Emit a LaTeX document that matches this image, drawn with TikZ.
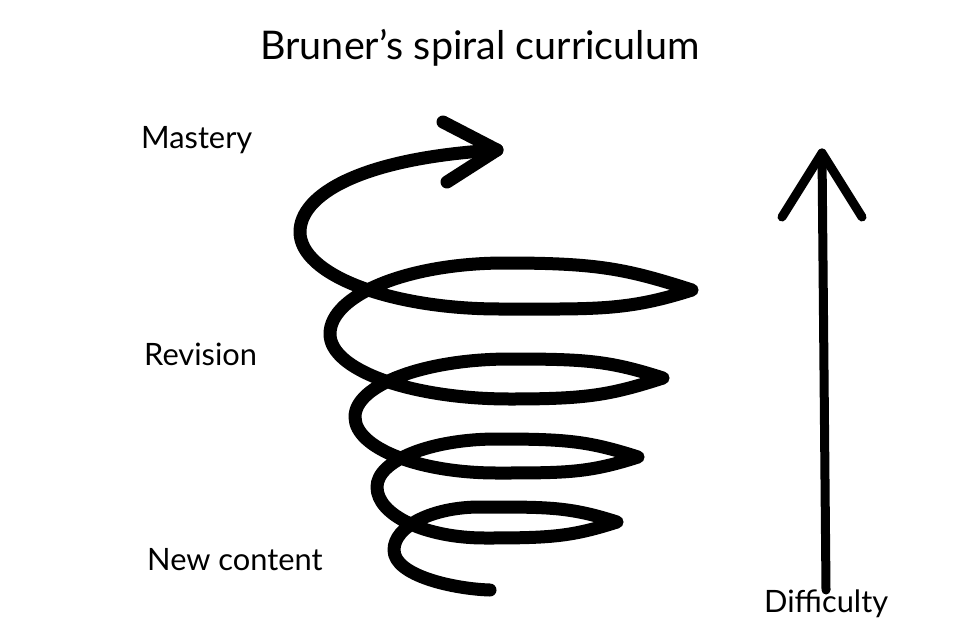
\documentclass[tikz,border=0pt]{standalone}
\usepackage{fontspec}
\setmainfont{Lato}
\begin{document}
\begin{tikzpicture}[x=1pt,y=-1pt,
  spiralline/.style={line width=13pt,line cap=round,line join=round,black},
  diffline/.style={line width=9pt,line cap=round,line join=round,black},
  lbl/.style={anchor=base west,inner sep=0pt,font=\fontsize{30.8}{36}\selectfont},
  titlelbl/.style={anchor=base,inner sep=0pt,font=\fontsize{39.5}{46}\selectfont}]
\useasboundingbox[fill=white] (0,0) rectangle (960,640);
% labels
\node[titlelbl] (title) at (480,59) {Bruner’s spiral curriculum};
\node[lbl] (mastery) at (141,148) {Mastery};
\node[lbl] (revision) at (144,365) {Revision};
\node[lbl] (newc) at (147,570) {New content};
\node[lbl] (diff) at (764,612) {Difficulty};
% spiral
\coordinate (s0) at (490,590);
\coordinate (tipA) at (497,150);
\draw[spiralline] (s0)
  .. controls (455,589) and (394,576) .. (394,550)
  % loop 1
  .. controls (394,526.3) and (432.5,507) .. (480,507)
  .. controls (548.5,507) and (569,506.6) .. (617,522)
  .. controls (571,536.7) and (551,538) .. (485,538)
  .. controls (425.4,538) and (377,515.2) .. (377,487)
  % loop 2
  .. controls (377,460.5) and (430.8,439) .. (497,439)
  .. controls (567.5,439) and (588.6,441.2) .. (638,457)
  .. controls (588.6,472.8) and (567.5,473) .. (497,473)
  .. controls (418.6,473) and (355,447.9) .. (355,417)
  % loop 3
  .. controls (355,385) and (424.4,359) .. (510,359)
  .. controls (586.5,359) and (609.4,360.8) .. (663,378)
  .. controls (609.4,395.2) and (586.5,399) .. (510,399)
  .. controls (410.6,399) and (330,369.9) .. (330,334)
  % loop 4
  .. controls (330,294.8) and (408.4,263) .. (505,263)
  .. controls (598.5,263) and (626.5,269) .. (692,290)
  .. controls (626.5,311) and (596,309) .. (500,309)
  .. controls (389.6,309) and (300,274.5) .. (300,232)
  % top arc
  .. controls (300,195) and (360,158) .. (tipA);
\coordinate (armU) at (443,122);
\coordinate (armL) at (447,182);
\draw[spiralline] (armU) -- (tipA) -- (armL);
% difficulty arrow
\coordinate (dbot) at (826,590);
\coordinate (dtop) at (822,153);
\coordinate (darmL) at (782,217);
\coordinate (darmR) at (862,217);
\draw[diffline] (dbot) -- (dtop);
\draw[diffline] (darmL) -- (dtop) -- (darmR);
\end{tikzpicture}
\end{document}
